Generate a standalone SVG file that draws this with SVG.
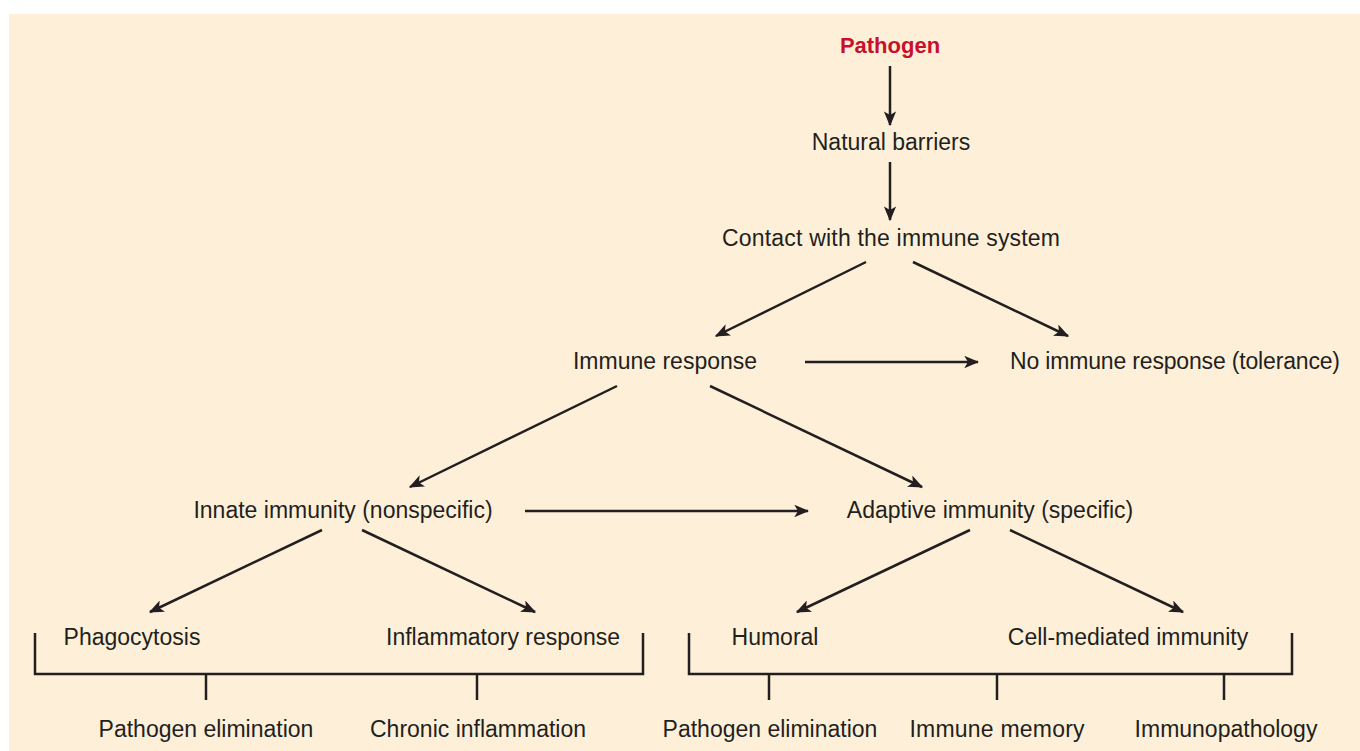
<svg xmlns="http://www.w3.org/2000/svg" width="1360" height="751" viewBox="0 0 1360 751">
<defs>
<style>
.t{font-family:"Liberation Sans",Arial,sans-serif;font-size:23px;fill:#231f20;text-anchor:middle}
.p{font-family:"Liberation Sans",Arial,sans-serif;font-size:22px;font-weight:bold;fill:#c8102e;text-anchor:middle}
.c{stroke:#231f20;stroke-width:2.5;fill:none}
.a{stroke:#231f20;stroke-width:2.5;fill:none;marker-end:url(#ah)}
</style>
<marker id="ah" viewBox="0 0 12 10" refX="11" refY="5" markerWidth="6" markerHeight="5" orient="auto" markerUnits="strokeWidth">
<path d="M0,0 L12,5 L0,10 L3,5 Z" fill="#231f20"/>
</marker>
</defs>
<rect x="0" y="0" width="1360" height="751" fill="#ffffff"/>
<rect x="9" y="14" width="1351" height="737" fill="#fef0d8"/>
<g id="connectors">
<line class="a" x1="890" y1="66" x2="890" y2="125"/>
<line class="a" x1="890" y1="162" x2="890" y2="220"/>
<line class="a" x1="866" y1="262" x2="716" y2="336"/>
<line class="a" x1="913" y1="262" x2="1068" y2="336"/>
<line class="a" x1="805" y1="362" x2="978" y2="362"/>
<line class="a" x1="617" y1="386" x2="410" y2="487"/>
<line class="a" x1="710" y1="386" x2="922" y2="487"/>
<line class="a" x1="525" y1="511" x2="808" y2="511"/>
<line class="a" x1="322" y1="530" x2="150" y2="612"/>
<line class="a" x1="362" y1="530" x2="535" y2="612"/>
<line class="a" x1="970" y1="530" x2="797" y2="612"/>
<line class="a" x1="1010" y1="530" x2="1183" y2="612"/>
<path class="c" d="M35,633 V674 H643 V633"/>
<line class="c" x1="206" y1="674" x2="206" y2="700"/>
<line class="c" x1="477" y1="674" x2="477" y2="700"/>
<path class="c" d="M689,633 V674 H1292 V633"/>
<line class="c" x1="769" y1="674" x2="769" y2="700"/>
<line class="c" x1="997" y1="674" x2="997" y2="700"/>
<line class="c" x1="1224" y1="674" x2="1224" y2="700"/>
</g>
<g id="pathogen"><text class="p" x="890" y="53">Pathogen</text></g>
<g id="barriers"><text class="t" x="891" y="150">Natural barriers</text></g>
<g id="contact"><text class="t" x="891" y="246" textLength="338">Contact with the immune system</text></g>
<g id="immune-response"><text class="t" x="665" y="369">Immune response</text></g>
<g id="tolerance"><text class="t" x="1175" y="369" textLength="330">No immune response (tolerance)</text></g>
<g id="innate"><text class="t" x="343" y="518">Innate immunity (nonspecific)</text></g>
<g id="adaptive"><text class="t" x="990" y="518">Adaptive immunity (specific)</text></g>
<g id="phagocytosis"><text class="t" x="132" y="645">Phagocytosis</text></g>
<g id="inflammatory"><text class="t" x="503" y="645">Inflammatory response</text></g>
<g id="humoral"><text class="t" x="775" y="645">Humoral</text></g>
<g id="cell-mediated"><text class="t" x="1128" y="645">Cell-mediated immunity</text></g>
<g id="elim1"><text class="t" x="206" y="737">Pathogen elimination</text></g>
<g id="chronic"><text class="t" x="478" y="737">Chronic inflammation</text></g>
<g id="elim2"><text class="t" x="770" y="737">Pathogen elimination</text></g>
<g id="memory"><text class="t" x="997" y="737" textLength="175">Immune memory</text></g>
<g id="immunopath"><text class="t" x="1226" y="737">Immunopathology</text></g>
</svg>
